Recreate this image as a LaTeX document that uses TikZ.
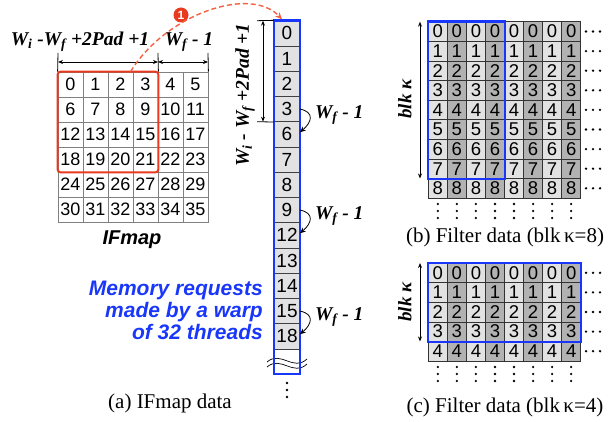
\documentclass[tikz,border=0pt]{standalone}
\usepackage{fontspec}
\setmainfont{Liberation Serif}
\setsansfont{Liberation Sans}
\usetikzlibrary{arrows.meta,positioning}

\definecolor{memblue}{RGB}{25,55,250}
\definecolor{boxred}{RGB}{232,58,30}
\definecolor{curvered}{RGB}{244,98,66}
\definecolor{lightcell}{RGB}{226,226,226}
\definecolor{darkcell}{RGB}{178,178,178}

\newcommand{\fsz}[1]{\fontsize{#1}{#1}\selectfont}

\tikzset{
  ifcell/.style={draw=black!50, line width=0.8pt, minimum width=25pt, minimum height=25pt,
    inner sep=0pt, font=\sffamily\fsz{18}},
  memcell/.style={draw=black!75, fill=lightcell, line width=0.7pt, minimum width=25pt,
    minimum height=25.25pt, inner sep=0pt, font=\sffamily\fsz{19}},
  fltcell/.style={draw=black!80, line width=0.6pt, minimum width=19.05pt, minimum height=19.6pt,
    inner sep=0pt, font=\sffamily\fsz{18.5}},
  dimlabel/.style={font=\bfseries\itshape\fsz{19.5}, inner sep=0pt},
  caption/.style={font=\fsz{21}, inner sep=0pt},
  dimarrow/.style={{Stealth[length=5pt,width=4pt]}-{Stealth[length=5pt,width=4pt]}, line width=0.8pt},
  jumparrow/.style={-{Stealth[length=6pt,width=5pt]}, line width=0.8pt},
  blkdot/.style={circle, fill=black, inner sep=0pt, minimum size=2.6pt},
}

\begin{document}
\begin{tikzpicture}[x=1pt, y=-1pt]

  \useasboundingbox (0,0) rectangle (613,422);

  % IFmap grid
  \foreach \r in {0,...,5} {
    \foreach \c in {0,...,5} {
      \pgfmathtruncatemacro\n{6*\r+\c}
      \node[ifcell] (if-\n) at ({70.5+25*\c},{84.5+25*\r}) {\n};
    }
  }
  \draw[boxred, line width=2pt, rounded corners=3pt] (if-0.north west) rectangle (if-21.south east);
  \node[font=\sffamily\bfseries\itshape\fsz{20}, inner sep=0pt] (iflabel) at (132,240) {IFmap};

  % widths above the IFmap
  \coordinate (ta) at (58,53);
  \coordinate (tb) at (158,53);
  \coordinate (tc) at (208,53);
  \draw[line width=0.8pt] (ta) -- (if-0.north west);
  \draw[line width=0.8pt] (tb) -- (if-3.north east);
  \draw[line width=0.8pt] (tc) -- (if-5.north east);
  \draw[dimarrow] ([yshift=-9pt]ta) -- ([yshift=-9pt]tb);
  \draw[dimarrow] ([yshift=-9pt]tb) -- ([yshift=-9pt]tc);
  \node[dimlabel] (wtop) at (80,42) {W\textsubscript{i} -W\textsubscript{f} +2Pad +1};
  \node[dimlabel] (wfa) at (189,42) {W\textsubscript{f} - 1};

  % memory requests column
  \foreach \v [count=\i from 0] in {0,1,2,3,6,7,8,9,12,13,14,15,18} {
    \node[memcell] (m-\i) at (287,{33.3+25.25*\i}) {\v};
  }
  \draw[line width=0.7pt] (267,362) .. controls (281,350) and (293,372) .. (307,359);
  \draw[line width=0.7pt] (267,367) .. controls (281,355) and (293,377) .. (307,364);
  \draw[memblue, line width=2.4pt] (m-0.north west) rectangle (300,374);
  \foreach \y [count=\i] in {383,390,397} {
    \node[blkdot] (mdot-\i) at (287,\y) {};
  }

  % height beside the column
  \coordinate (ha) at (257,20.7);
  \coordinate (hb) at (257,121.7);
  \draw[line width=0.8pt] (ha) -- (m-0.north west);
  \draw[line width=0.8pt] (hb) -- (m-3.south west);
  \draw[dimarrow] ([xshift=6pt]ha) -- ([xshift=6pt]hb);
  \node[dimlabel, rotate=90] (wside) at (245,95) {W\textsubscript{i} - W\textsubscript{f} +2Pad +1};

  % jumps between rows
  \foreach \a/\b in {3/4, 7/8, 11/12} {
    \draw[jumparrow] (m-\a.east) .. controls +(15,3) and +(12,-10) .. ([yshift=2pt]m-\b.east);
    \node[dimlabel, anchor=west] (wf-\a) at ([xshift=15pt,yshift=-6pt]m-\a.east) {W\textsubscript{f} - 1};
  }

  \node[font=\sffamily\bfseries\itshape\fsz{21}, text=memblue, align=right, anchor=east,
    inner sep=0pt] (warp) at (263,310) {Memory requests\\[1pt]made by a warp\\[1pt]of 32 threads};

  % step one: IFmap to column
  \node[circle, fill=boxred, text=white, inner sep=0pt, minimum size=15pt,
    font=\sffamily\bfseries\fsz{12}] (one) at (181,15) {1};
  \draw[curvered, line width=1.4pt, dash pattern=on 5pt off 3pt, -{Stealth[length=7pt,width=6pt]}]
    ([xshift=-2pt]if-3.north west) .. controls (165,15) and (250,-15) .. ([xshift=-5pt,yshift=1pt]m-0.north);

  % filter data, blk = 8
  \foreach \r in {0,...,8} {
    \foreach \c in {0,...,7} {
      \pgfmathtruncatemacro\k{mod(\c,2)}
      \ifnum\k=0 \def\shade{lightcell}\else \def\shade{darkcell}\fi
      \node[fltcell, fill=\shade] (fb-\r-\c) at ({437.8+19.05*\c},{31.5+19.6*\r}) {\r};
    }
    \foreach \x [count=\j] in {586,593,600} {
      \node[blkdot] (fbr-\r-\j) at (\x,{31.5+19.6*\r}) {};
    }
  }
  \foreach \c in {0,...,7} {
    \foreach \y [count=\j] in {204,211,218} {
      \node[blkdot] (fbd-\c-\j) at ({437.8+19.05*\c},\y) {};
    }
  }
  \draw[memblue, line width=2.4pt] (fb-0-0.north west) rectangle (fb-7-3.south east);
  \coordinate (ba) at (420,21.7);
  \coordinate (bb) at (420,178.5);
  \draw[dimarrow] (ba) -- (bb);
  \node[font=\bfseries\itshape\fsz{19}, rotate=90, inner sep=0pt] (blkb) at (405,99) {blk κ};
  \node[caption] (capb) at (505,237) {(b) Filter data (blk\,κ=8)};

  % filter data, blk = 4
  \foreach \r in {0,...,4} {
    \foreach \c in {0,...,7} {
      \pgfmathtruncatemacro\k{mod(\c,2)}
      \ifnum\k=0 \def\shade{lightcell}\else \def\shade{darkcell}\fi
      \node[fltcell, fill=\shade] (fc-\r-\c) at ({437.8+19.05*\c},{272.8+19.6*\r}) {\r};
    }
    \foreach \x [count=\j] in {586,593,600} {
      \node[blkdot] (fcr-\r-\j) at (\x,{272.8+19.6*\r}) {};
    }
  }
  \foreach \c in {0,...,7} {
    \foreach \y [count=\j] in {367,374,381} {
      \node[blkdot] (fcd-\c-\j) at ({437.8+19.05*\c},\y) {};
    }
  }
  \draw[memblue, line width=2.4pt] (fc-0-0.north west) rectangle (fc-3-7.south east);
  \coordinate (ca) at (420,263);
  \coordinate (cb) at (420,341.4);
  \draw[dimarrow] (ca) -- (cb);
  \node[font=\bfseries\itshape\fsz{19}, rotate=90, inner sep=0pt] (blkc) at (405,302) {blk κ};
  \node[caption] (capc) at (505,407) {(c) Filter data (blk\,κ=4)};

  \node[caption] (capa) at (170,403) {(a) IFmap data};

\end{tikzpicture}
\end{document}
